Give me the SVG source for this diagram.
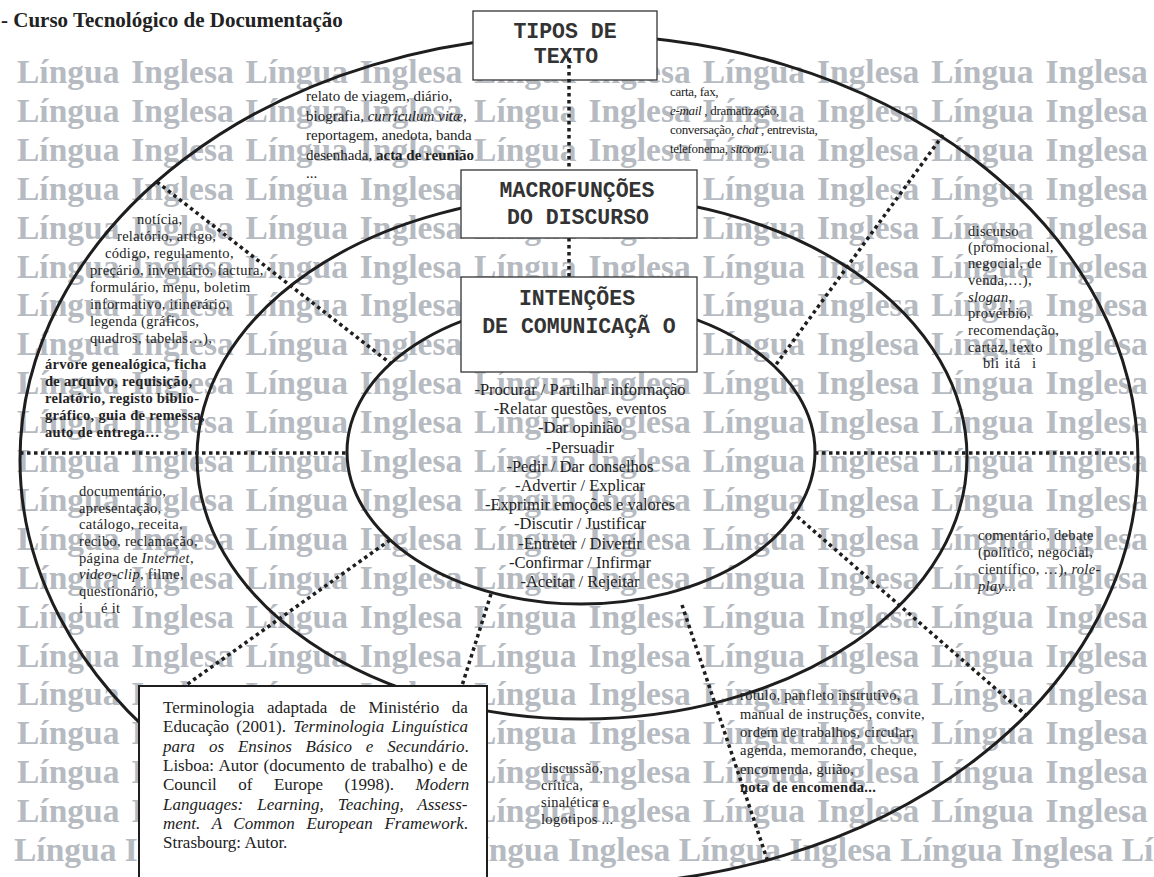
<svg xmlns="http://www.w3.org/2000/svg" width="1154" height="877" viewBox="0 0 1154 877">
<style>
.wm{font-family:"Liberation Serif","Times New Roman",serif;font-weight:bold;font-size:33.5px;fill:#b6bac1;word-spacing:3.5px}
.wmn{word-spacing:0px}
.el{fill:none;stroke:#1e1e1e;stroke-width:3}
.dot{fill:none;stroke:#1e1e1e;stroke-width:3.5;stroke-dasharray:3.5 3.5}
.box{fill:#fff;stroke:#333;stroke-width:1.3}
.fbox{fill:#fff;stroke:#1e1e1e;stroke-width:2}
.bt{font-family:"Liberation Mono","Courier New",monospace;font-weight:bold;font-size:21.5px;fill:#333;text-anchor:middle}
.t{font-family:"Liberation Serif","Times New Roman",serif;font-size:14.5px;fill:#222;letter-spacing:0.3px}
.s{font-size:13px;letter-spacing:-0.3px}
.r{font-size:15px;letter-spacing:0px}
.c{font-family:"Liberation Serif","Times New Roman",serif;font-size:16.5px;fill:#222;text-anchor:middle}
.fn{font-family:"Liberation Serif","Times New Roman",serif;font-size:17px;fill:#222}
.i{font-style:italic}
.b{font-weight:bold}
.h{font-family:"Liberation Serif","Times New Roman",serif;font-size:21px;font-weight:bold;fill:#222}
</style>
<defs>
<text id="wmrow" class="wm" x="17" y="0">Língua Inglesa Língua Inglesa Língua Inglesa Língua Inglesa Língua Inglesa</text>
</defs>
<rect width="1154" height="877" fill="#fff"/>
<g id="watermark">
<use href="#wmrow" y="83"/>
<use href="#wmrow" y="121.9"/>
<use href="#wmrow" y="160.8"/>
<use href="#wmrow" y="199.7"/>
<use href="#wmrow" y="238.6"/>
<use href="#wmrow" y="277.5"/>
<use href="#wmrow" y="316.4"/>
<use href="#wmrow" y="355.3"/>
<use href="#wmrow" y="394.2"/>
<use href="#wmrow" y="433.1"/>
<use href="#wmrow" y="472"/>
<use href="#wmrow" y="510.9"/>
<use href="#wmrow" y="549.8"/>
<use href="#wmrow" y="588.7"/>
<use href="#wmrow" y="627.6"/>
<use href="#wmrow" y="666.5"/>
<use href="#wmrow" y="705.4"/>
<use href="#wmrow" y="744.3"/>
<use href="#wmrow" y="783.2"/>
<use href="#wmrow" y="822.1"/>
<text class="wm wmn" x="14" y="861">Língua Inglesa Língua Inglesa Língua Inglesa Língua Inglesa Língua Inglesa Lí</text>
</g>
<text id="heading" class="h" x="1" y="27">- Curso Tecnológico de Documentação</text>
<g id="rings">
<ellipse class="el" cx="579" cy="460" rx="559" ry="425"/>
<ellipse class="el" cx="582" cy="457" rx="385" ry="262"/>
<ellipse class="el" cx="581" cy="452" rx="234" ry="152"/>
</g>
<g id="connectors">
<line class="dot" x1="569" y1="238" x2="569" y2="277"/>
<line class="dot" x1="20" y1="453" x2="347" y2="453"/>
<line class="dot" x1="815" y1="453" x2="1138" y2="453"/>
<line class="dot" x1="157" y1="182" x2="390" y2="363"/>
<line class="dot" x1="943" y1="135" x2="775" y2="366"/>
<line class="dot" x1="792" y1="512" x2="1027" y2="716"/>
<line class="dot" x1="682" y1="605" x2="768" y2="862"/>
<line class="dot" x1="390" y1="540" x2="175" y2="693"/>
<line class="dot" x1="491" y1="594" x2="460" y2="692"/>
</g>
<g id="tipos">
<rect class="box" x="473" y="11" width="184" height="69"/>
<text class="bt" x="565" y="38">TIPOS DE</text>
<text class="bt" x="566" y="63">TEXTO</text>
</g>
<line class="dot" x1="569" y1="58" x2="569" y2="170"/>
<g id="macro">
<rect class="box" x="461" y="170" width="236" height="68"/>
<text class="bt" x="577" y="197">MACROFUNÇÕES</text>
<text class="bt" x="578" y="224">DO DISCURSO</text>
</g>
<g id="intencoes">
<rect class="box" x="461" y="277" width="236" height="95"/>
<text class="bt" x="577" y="305">INTENÇÕES</text>
<text class="bt" x="579" y="333">DE COMUNICAÇÃ O</text>
</g>
<g id="intencoes-lista" class="c">
<text x="580" y="395">-Procurar / Partilhar informação</text>
<text x="580" y="414">-Relatar questões, eventos</text>
<text x="580" y="433">-Dar opinião</text>
<text x="580" y="453">-Persuadir</text>
<text x="580" y="472">-Pedir / Dar conselhos</text>
<text x="580" y="491">-Advertir / Explicar</text>
<text x="580" y="510">-Exprimir emoções e valores</text>
<text x="580" y="529">-Discutir / Justificar</text>
<text x="580" y="549">-Entreter / Divertir</text>
<text x="580" y="568">-Confirmar / Infirmar</text>
<text x="580" y="587">-Aceitar / Rejeitar</text>
</g>
<g id="narrativos" class="t r">
<text x="306" y="101">relato de viagem, diário,</text>
<text x="306" y="120.5">biografia, <tspan class="i">curriculum vitæ</tspan>,</text>
<text x="306" y="140">reportagem, anedota, banda</text>
<text x="306" y="159.5">desenhada, <tspan class="b">acta de reunião</tspan></text>
<text x="306" y="178">...</text>
</g>
<g id="conversacionais" class="t s">
<text x="670" y="96">carta, fax,</text>
<text x="670" y="115"><tspan class="i">e-mail</tspan> , dramatização,</text>
<text x="670" y="134">conversação, <tspan class="i">chat</tspan> , entrevista,</text>
<text x="670" y="153">telefonema, <tspan class="i">sitcom</tspan>...</text>
</g>
<g id="informativos" class="t">
<text x="137" y="224">notícia,</text>
<text x="117" y="241">relatório, artigo,</text>
<text x="105" y="258">código, regulamento,</text>
<text x="90" y="275">preçário, inventário, factura,</text>
<text x="90" y="292">formulário, menu, boletim</text>
<text x="90" y="309">informativo, itinerário,</text>
<text x="90" y="326">legenda (gráficos,</text>
<text x="90" y="343">quadros, tabelas…),</text>
<g class="b">
<text x="45" y="369">árvore  genealógica, ficha</text>
<text x="45" y="386">de arquivo, requisição,</text>
<text x="45" y="403">relatório,  registo biblio-</text>
<text x="45" y="420">gráfico, guia de remessa,</text>
<text x="45" y="437">auto de entrega…</text>
</g>
</g>
<g id="persuasivos" class="t">
<text x="968" y="236">discurso</text>
<text x="968" y="252">(promocional,</text>
<text x="968" y="268">negocial, de</text>
<text x="968" y="285">venda,…),</text>
<text x="968" y="302"><tspan class="i">slogan</tspan>,</text>
<text x="968" y="318">provérbio,</text>
<text x="968" y="335">recomendação,</text>
<text x="968" y="352">cartaz, texto</text>
<text y="368"><tspan x="983">bli</tspan><tspan x="1005">itá</tspan><tspan x="1032">i</tspan></text>
</g>
<g id="descritivos" class="t">
<text x="79" y="496">documentário,</text>
<text x="79" y="513">apresentação,</text>
<text x="79" y="529">catálogo,  receita,</text>
<text x="79" y="546">recibo, reclamação,</text>
<text x="79" y="563">página de <tspan class="i">Internet</tspan>,</text>
<text x="79" y="579"><tspan class="i">video-clip</tspan>, filme,</text>
<text x="79" y="596">questionário,</text>
<text y="613"><tspan x="79">i</tspan><tspan x="101">é it</tspan></text>
</g>
<g id="argumentativos" class="t">
<text x="978" y="540">comentário, debate</text>
<text x="978" y="557">(político, negocial,</text>
<text x="978" y="574">científico, …), <tspan class="i">role-</tspan></text>
<text x="978" y="591"><tspan class="i">play</tspan>...</text>
</g>
<g id="instrucionais" class="t">
<text x="740" y="700">rótulo, panfleto instrutivo,</text>
<text x="740" y="718.5">manual  de instruções, convite,</text>
<text x="740" y="737">ordem de trabalhos, circular,</text>
<text x="740" y="755">agenda, memorando, cheque,</text>
<text x="740" y="773.5">encomenda, guião,</text>
<text x="740" y="792" class="b">nota de encomenda...</text>
</g>
<g id="preditivos" class="t">
<text x="541" y="773">discussão,</text>
<text x="541" y="790">crítica,</text>
<text x="541" y="807">sinalética e</text>
<text x="541" y="824">logotipos ...</text>
</g>
<g id="nota">
<rect class="fbox" x="139" y="686" width="348" height="200"/>
<g class="fn">
<text x="163" y="713" word-spacing="8.3">Terminologia adaptada de Ministério da</text>
<text x="163" y="732.3" word-spacing="3">Educação (2001). <tspan class="i">Terminologia Linguística</tspan></text>
<text x="163" y="751.6" word-spacing="9.6"><tspan class="i">para os Ensinos Básico e Secundário</tspan>.</text>
<text x="163" y="770.9" word-spacing="1.2">Lisboa: Autor (documento de trabalho) e de</text>
<text x="163" y="790.2" word-spacing="17.2">Council of Europe (1998). <tspan class="i">Modern</tspan></text>
<text x="163" y="809.5" word-spacing="9.7"><tspan class="i">Languages: Learning, Teaching, Assess-</tspan></text>
<text x="163" y="828.8" word-spacing="7.4"><tspan class="i">ment. A Common European Framework</tspan>.</text>
<text x="163" y="848">Strasbourg: Autor.</text>
</g>
</g>
</svg>
